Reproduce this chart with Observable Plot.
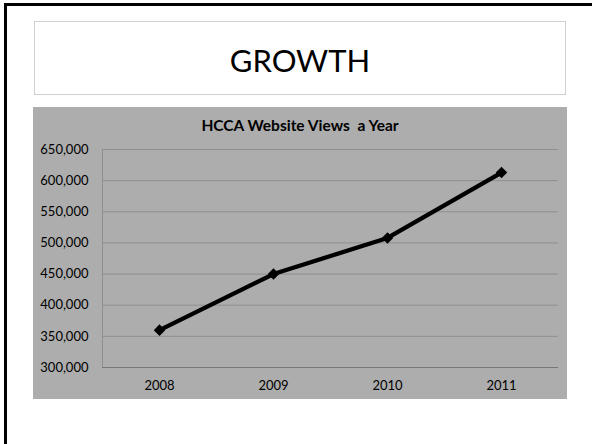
<!DOCTYPE html>
<html>
<head>
<meta charset="utf-8">
<script src="https://cdn.jsdelivr.net/npm/d3@7"></script>
<script src="https://cdn.jsdelivr.net/npm/@observablehq/plot@0.6"></script>
<style>
  html, body { margin: 0; padding: 0; background: #fff; }
  #slide { position: relative; width: 592px; height: 444px; overflow: hidden; background: #fff; font-family: Lato, "Open Sans", sans-serif; }
  #frame { position: absolute; left: 4px; top: 3px; width: 700px; height: 600px; border: 3px solid #000; box-sizing: border-box; }
  #titlebox { position: absolute; left: 34px; top: 21px; width: 532px; height: 74px; border: 1px solid #d0d0d0; box-sizing: border-box; background: #fff;
    display: flex; align-items: center; justify-content: center; font-size: 31px; color: #000; padding-top: 4px; }
  #chart { position: absolute; left: 33px; top: 107px; width: 534px; height: 292px; background: #adadad; }
  #charttitle { position: absolute; left: 0; top: 9px; width: 534px; text-align: center; font-weight: bold; font-size: 15.5px; color: #000; }
  #plot { position: absolute; left: 0; top: 0; }
  #plot path[stroke="#000"] { filter: drop-shadow(1px 1px 1px rgba(0,0,0,0.35)); }
</style>
</head>
<body>
<div id="slide">
  <div id="frame"></div>
  <div id="titlebox">GROWTH</div>
  <div id="chart">
    <div id="plot"></div>
    <div id="charttitle">HCCA Website Views&nbsp; a Year</div>
  </div>
</div>
<script>
const years = ["2008", "2009", "2010", "2011"];
const views = [360000, 450000, 508000, 613000];
const yTicks = [300000, 350000, 400000, 450000, 500000, 550000, 600000, 650000];

const data = years.map((y, i) => ({year: y, views: views[i]}));

const plot = Plot.plot({
  width: 534,
  height: 292,
  marginLeft: 69,
  marginRight: 9,
  marginTop: 42,
  marginBottom: 32,
  style: {background: "transparent", fontFamily: "Lato, 'Open Sans', sans-serif", fontSize: "13px", color: "#000"},
  x: {type: "point", domain: years, padding: 0.5, label: null},
  y: {domain: [300000, 650000], label: null},
  marks: [
    Plot.gridY(yTicks, {stroke: "#8f8f8f", strokeOpacity: 1, strokeWidth: 1}),
    Plot.frame({anchor: "left", stroke: "#8f8f8f"}),
    Plot.axisY(yTicks, {tickSize: 0, tickPadding: 14, tickFormat: d3.format(","), fontSize: 13, fill: "#000"}),
    Plot.axisX(years, {tickSize: 0, tickPadding: 13, fontSize: 13, fill: "#000"}),
    Plot.ruleY([300000], {stroke: "#777", strokeWidth: 1}),
    Plot.line(data, {x: "year", y: "views", stroke: "#000", strokeWidth: 4.3, strokeLinejoin: "round"}),
    Plot.dot(data, {x: "year", y: "views", symbol: "square", rotate: 45, r: 4.6, fill: "#000", stroke: "none"})
  ]
});
document.getElementById("plot").appendChild(plot);
</script>
</body>
</html>
